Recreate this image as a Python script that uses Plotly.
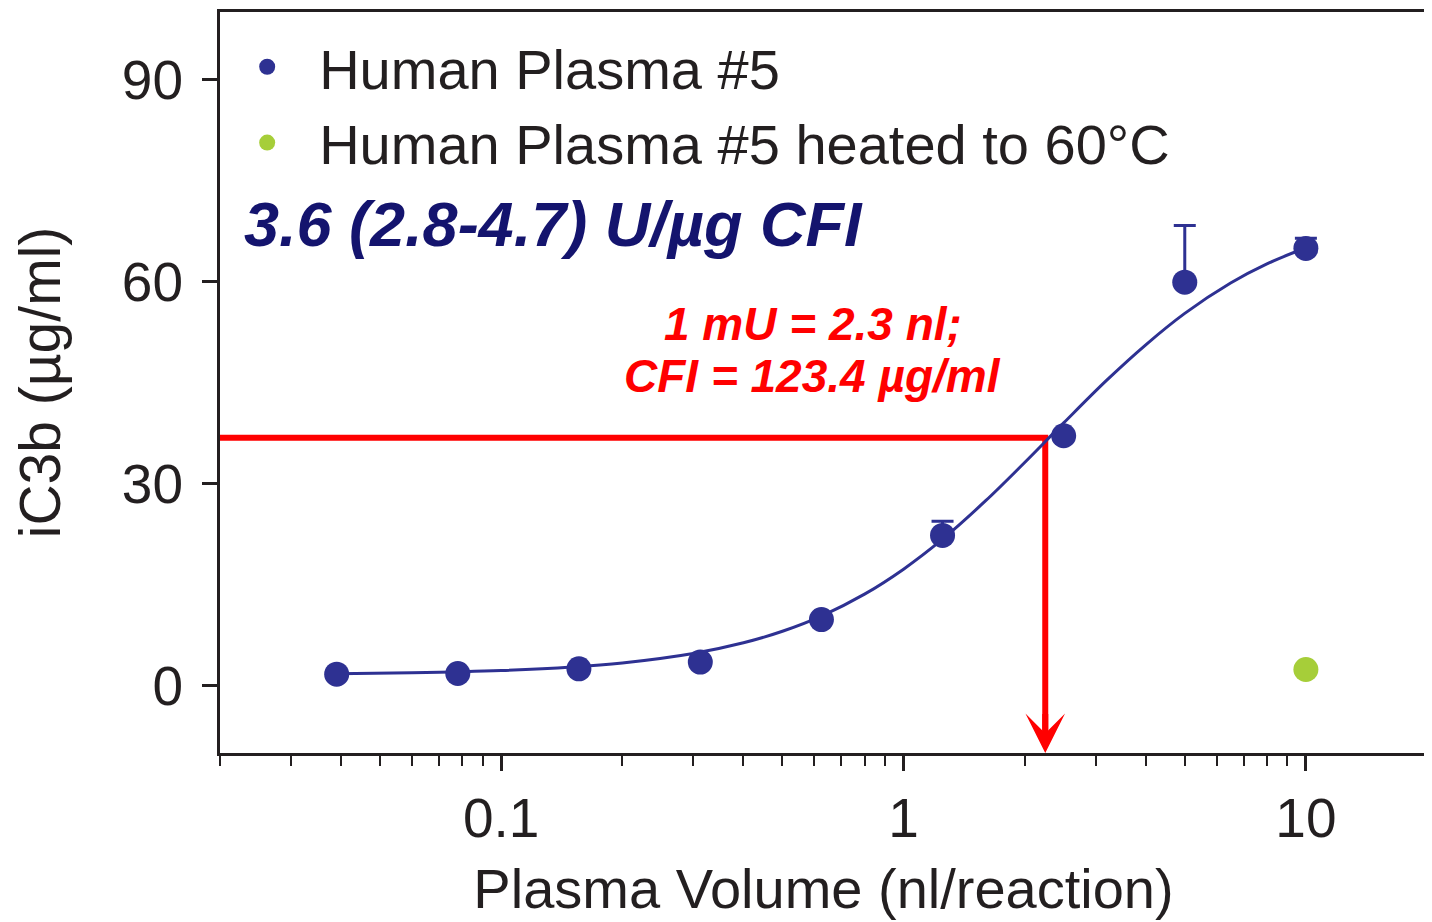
import math
import plotly.graph_objects as go

# ---- data ----
volume = [0.039, 0.078, 0.156, 0.3125, 0.625, 1.25, 2.5, 5.0, 10.0]
ic3b = [1.7, 1.8, 2.5, 3.5, 9.8, 22.3, 37.1, 59.9, 64.9]
ic3b_err = [0, 0, 0, 0, 0, 2.1, 0, 8.4, 1.5]

heated_volume = [10.0]
heated_ic3b = [2.4]

fit_x = [0.039, 0.06, 0.1, 0.15, 0.2, 0.3, 0.4, 0.5, 0.625, 0.8, 1.0, 1.25,
         1.6, 2.0, 2.5, 3.2, 4.0, 5.0, 6.5, 8.0, 10.0]
fit_y = [1.76, 1.9, 2.23, 2.75, 3.36, 4.77, 6.36, 8.08, 10.33, 13.58, 17.29,
         21.74, 27.45, 33.13, 39.0, 45.35, 50.6, 55.26, 59.76, 62.6, 65.0]

ec_x = 2.25      # nl/reaction at 1 mU
ec_y = 36.8      # iC3b level
x_min, x_max = 0.02, 20
y_min, y_max = -10, 100

x_tickvals = [0.1, 1, 10]
x_ticktext = ["0.1", "1", "10"]
y_tickvals = [0, 30, 60, 90]

NAVY = "#2e3192"
GREEN = "#a6ce39"
RED = "#ff0000"
INK = "#231f20"
FONT = "Liberation Sans, Arial, sans-serif"

fig = go.Figure()

# red guide line (horizontal then vertical)
fig.add_trace(go.Scatter(
    x=[x_min, ec_x, ec_x], y=[ec_y, ec_y, y_min + 2.5],
    mode="lines", line=dict(color=RED, width=6), showlegend=False,
    hoverinfo="skip", cliponaxis=False))

# fitted curve
fig.add_trace(go.Scatter(
    x=fit_x, y=fit_y, mode="lines", line=dict(color=NAVY, width=3, shape="spline"),
    showlegend=False, hoverinfo="skip"))

fig.add_trace(go.Scatter(
    x=volume, y=ic3b, mode="markers", name="Human Plasma #5",
    marker=dict(color=NAVY, size=25),
    error_y=dict(type="data", symmetric=False, array=ic3b_err,
                 arrayminus=[0] * len(ic3b_err), color=NAVY, thickness=3, width=11)))

fig.add_trace(go.Scatter(
    x=heated_volume, y=heated_ic3b, mode="markers",
    name="Human Plasma #5 heated to 60°C",
    marker=dict(color=GREEN, size=25)))

# arrow head at the bottom of the guide line
fig.add_annotation(
    x=math.log10(ec_x), y=y_min, xref="x", yref="y",
    ax=math.log10(ec_x), ay=y_min + 6, axref="x", ayref="y",
    showarrow=True, arrowhead=3, arrowsize=1.1, arrowwidth=6,
    arrowcolor=RED, standoff=0, text="")

fig.add_annotation(
    x=0.018, y=0.714, xref="paper", yref="paper", xanchor="left", yanchor="middle",
    text="3.6 (2.8-4.7) U/µg CFI", showarrow=False,
    font=dict(family=FONT, size=63, color="#14146e", weight="bold", style="italic"))

fig.add_annotation(
    x=0.491, y=0.579, xref="paper", yref="paper", xanchor="center", yanchor="middle",
    text="1 mU = 2.3 nl;", showarrow=False,
    font=dict(family=FONT, size=46, color=RED, weight="bold", style="italic"))
fig.add_annotation(
    x=0.491, y=0.509, xref="paper", yref="paper", xanchor="center", yanchor="middle",
    text="CFI = 123.4 µg/ml", showarrow=False,
    font=dict(family=FONT, size=46, color=RED, weight="bold", style="italic"))

fig.update_layout(
    width=1432, height=922,
    margin=dict(l=212, r=13, t=1, b=177),
    paper_bgcolor="white", plot_bgcolor="white",
    font=dict(family=FONT, color=INK),
    showlegend=True,
    legend=dict(x=-0.004, y=0.984, xanchor="left", yanchor="top",
                bgcolor="rgba(0,0,0,0)", font=dict(size=56, color=INK),
                itemwidth=94, tracegroupgap=0),
    xaxis=dict(
        type="log", range=[math.log10(x_min), math.log10(x_max)],
        tickvals=x_tickvals, ticktext=x_ticktext,
        ticks="outside", ticklen=15, tickwidth=3, tickcolor=INK,
        minor=dict(ticks="outside", ticklen=10, tickwidth=2, tickcolor=INK, dtick="D1", showgrid=False),
        showline=True, linewidth=3, linecolor=INK, mirror=True,
        showgrid=False, zeroline=False,
        tickfont=dict(size=55, color=INK),
        title=dict(text="Plasma Volume (nl/reaction)", font=dict(size=56, color=INK), standoff=21)),
    yaxis=dict(
        range=[y_min, y_max], tickvals=y_tickvals,
        ticks="outside", ticklen=15, tickwidth=3, tickcolor=INK,
        ticklabelstandoff=8,
        showline=True, linewidth=3, linecolor=INK, mirror=True,
        showgrid=False, zeroline=False,
        tickfont=dict(size=55, color=INK),
        title=dict(text="iC3b (µg/ml)", font=dict(size=57, color=INK), standoff=43)),
)

fig.write_html("out.html")
